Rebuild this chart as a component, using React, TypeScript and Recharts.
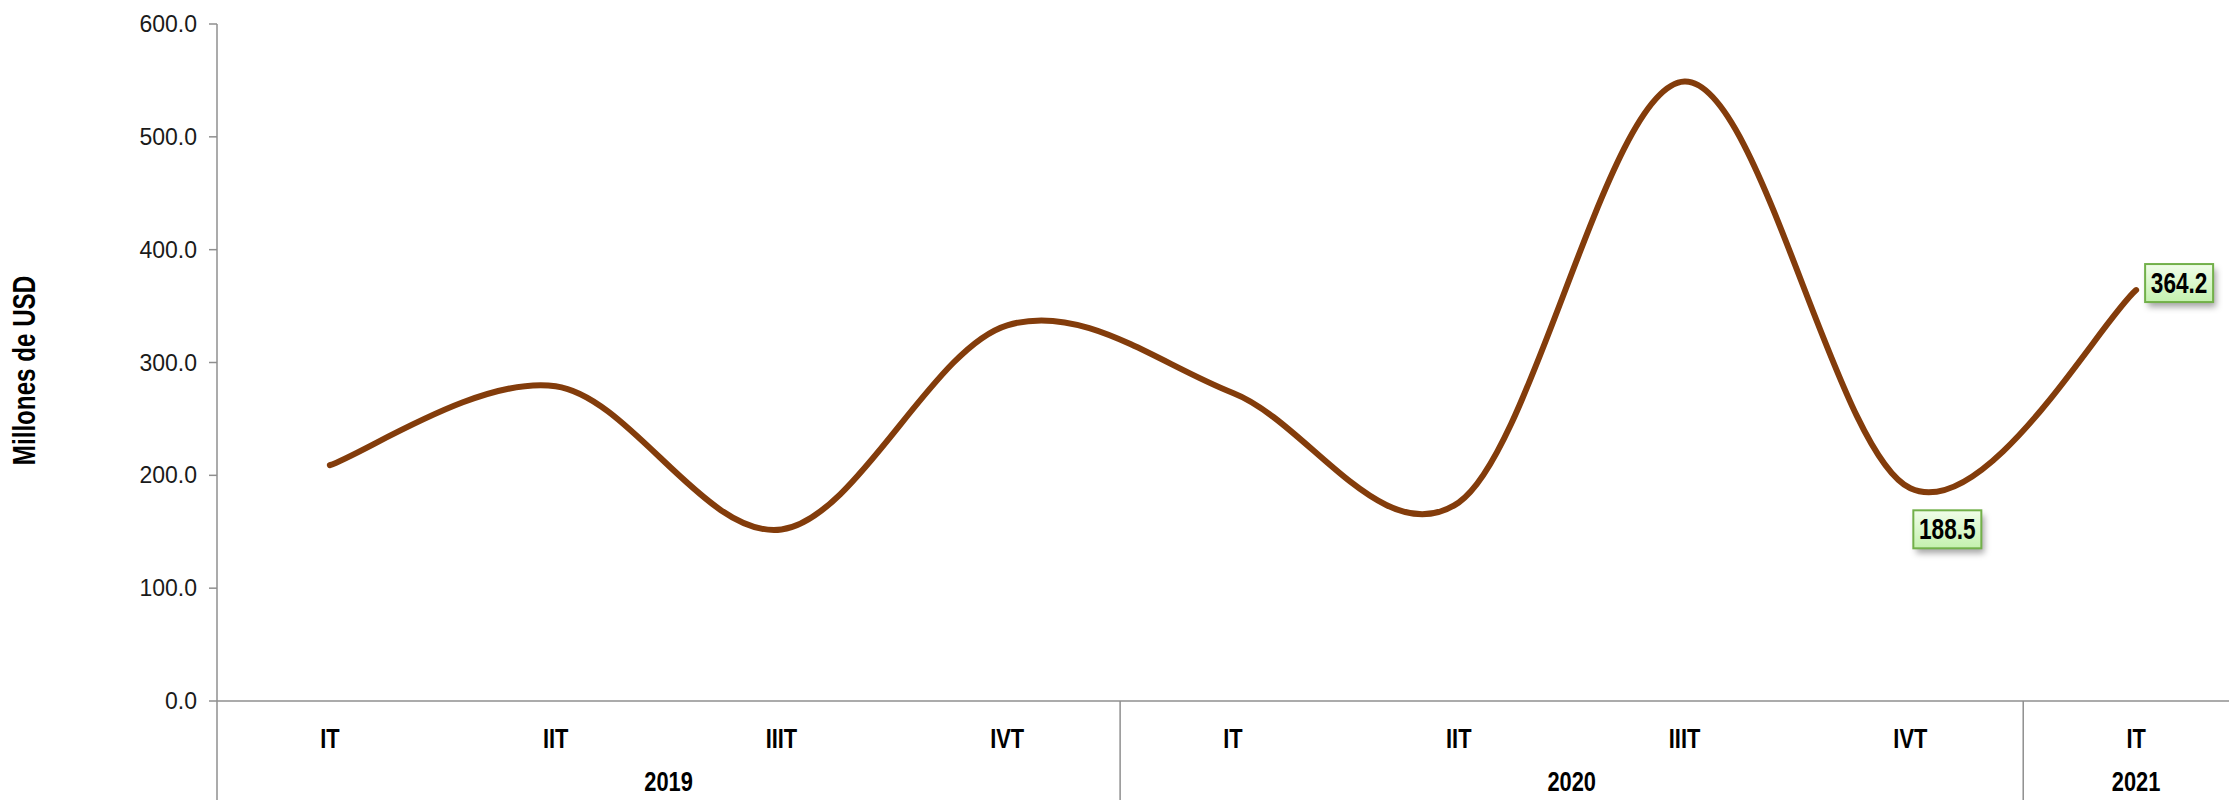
import { LineChart, Line, XAxis, YAxis, Label } from 'recharts';

const quarters = ['IT', 'IIT', 'IIIT', 'IVT', 'IT', 'IIT', 'IIIT', 'IVT', 'IT'];
const years = ['2019', '2019', '2019', '2019', '2020', '2020', '2020', '2020', '2021'];
const values = [209, 279, 152, 333, 273, 176, 549, 188.5, 364.2];
const yTicks = [0, 100, 200, 300, 400, 500, 600];
// only the last two points carry a data label
const labelled = [7, 8];

const data = quarters.map((q, i) => ({
    key: `${years[i]}-${q}`,
    quarter: q,
    year: years[i],
    value: values[i],
}));

const WIDTH = 2260;
const HEIGHT = 800;
const Y_AXIS_W = 217;
const MARGIN = { top: 24, right: 11, left: 0, bottom: 0 };
const PLOT_W = WIDTH - MARGIN.left - MARGIN.right - Y_AXIS_W;
const HALF_BAND = PLOT_W / quarters.length / 2;

const AXIS = '#8f8f8f';
const LINE = '#833C0B';
const SANS = '"Liberation Sans", Arial, sans-serif';

// Excel-style smoothed line (Catmull-Rom through every point)
const excelSmooth = (context: any) => {
    let pts: number[][] = [];
    return {
        areaStart() {},
        areaEnd() {},
        lineStart() {
            pts = [];
        },
        point(x: number, y: number) {
            pts.push([+x, +y]);
        },
        lineEnd() {
            if (!pts.length) return;
            context.moveTo(pts[0][0], pts[0][1]);
            for (let i = 0; i < pts.length - 1; i++) {
                const p0 = pts[Math.max(i - 1, 0)];
                const p1 = pts[i];
                const p2 = pts[i + 1];
                const p3 = pts[Math.min(i + 2, pts.length - 1)];
                context.bezierCurveTo(
                    p1[0] + (p2[0] - p0[0]) / 6,
                    p1[1] + (p2[1] - p0[1]) / 6,
                    p2[0] - (p3[0] - p1[0]) / 6,
                    p2[1] - (p3[1] - p1[1]) / 6,
                    p2[0],
                    p2[1],
                );
            }
        },
    };
};

// bold condensed text (no narrow font installed, so squeeze a normal one)
function Narrow({ x, y, size = 28, rotate = 0, children }: any) {
    return (
        <text
            transform={`translate(${x} ${y}) rotate(${rotate}) scale(0.78 1)`}
            textAnchor="middle"
            fontFamily={SANS}
            fontWeight="bold"
            fontSize={size}
            fill="#000"
        >
            {children}
        </text>
    );
}

function XTick(props: any) {
    const { x, y, index } = props;
    const left = x - HALF_BAND;
    const parts = [
        <Narrow key="q" x={x} y={y + 47}>
            {quarters[index]}
        </Narrow>,
    ];
    const startsGroup = index === 0 || years[index] !== years[index - 1];
    if (startsGroup) {
        let n = 0;
        while (index + n < years.length && years[index + n] === years[index]) n++;
        parts.push(
            <line key="sep" x1={left} x2={left} y1={y} y2={HEIGHT} stroke={AXIS} strokeWidth={1.5} />,
            <Narrow key="yr" x={left + n * HALF_BAND} y={y + 90}>
                {years[index]}
            </Narrow>,
        );
        if (index + n === years.length) {
            const right = left + n * 2 * HALF_BAND;
            parts.push(<line key="end" x1={right} x2={right} y1={y} y2={HEIGHT} stroke={AXIS} strokeWidth={1.5} />);
        }
    }
    return <g>{parts}</g>;
}

function DataLabel(props: any) {
    const { x, y, index, value } = props;
    if (!labelled.includes(index)) return <g />;
    const w = 68;
    const h = 38;
    // last point: label to the right, the other one below
    const bx = index === quarters.length - 1 ? x + 9 : x + 3;
    const by = index === quarters.length - 1 ? y - 26 : y + 22;
    return (
        <g>
            <defs>
                <linearGradient id="lblFill" x1="0" y1="0" x2="0" y2="1">
                    <stop offset="0%" stopColor="#f0fde9" />
                    <stop offset="100%" stopColor="#c4f1ae" />
                </linearGradient>
                <filter id="lblShadow" x="-30%" y="-30%" width="160%" height="180%">
                    <feGaussianBlur stdDeviation="3" />
                </filter>
            </defs>
            <rect x={bx + 3} y={by + 5} width={w} height={h} fill="rgba(0,0,0,0.35)" filter="url(#lblShadow)" />
            <rect x={bx} y={by} width={w} height={h} fill="url(#lblFill)" stroke="#72b04a" strokeWidth={2} />
            <Narrow x={bx + w / 2} y={by + h / 2 + 10} size={29}>
                {Number(value).toFixed(1)}
            </Narrow>
        </g>
    );
}

export default function App() {
    return (
        <div style={{ position: 'absolute', left: 0, top: 0, width: 2229, height: 800, overflow: 'hidden', background: '#fff' }}>
            <LineChart width={WIDTH} height={HEIGHT} data={data} margin={MARGIN}>
                <XAxis
                    dataKey="key"
                    height={HEIGHT - 701}
                    padding={{ left: HALF_BAND, right: HALF_BAND }}
                    axisLine={{ stroke: AXIS, strokeWidth: 1.5 }}
                    tickLine={false}
                    tickSize={0}
                    tickMargin={0}
                    interval={0}
                    tick={(p: any) => <XTick {...p} />}
                />
                <YAxis
                    width={Y_AXIS_W}
                    domain={[0, 600]}
                    ticks={yTicks}
                    interval={0}
                    tickFormatter={(v: number) => v.toFixed(1)}
                    axisLine={{ stroke: AXIS, strokeWidth: 1.5 }}
                    tickLine={{ stroke: AXIS, strokeWidth: 1.5 }}
                    tickSize={8}
                    tickMargin={12}
                    tick={{ fill: '#1a1a1a', fontSize: 23, fontFamily: SANS }}
                >
                    <Label
                        content={(p: any) => {
                            const vb = p.viewBox || { y: 24, height: 677 };
                            const cy = vb.y + vb.height / 2 + 8;
                            return (
                                <Narrow x={35} y={cy} size={31} rotate={-90}>
                                    Millones de USD
                                </Narrow>
                            );
                        }}
                    />
                </YAxis>
                <Line
                    dataKey="value"
                    type={excelSmooth as any}
                    stroke={LINE}
                    strokeWidth={6}
                    strokeLinecap="round"
                    dot={false}
                    activeDot={false}
                    isAnimationActive={false}
                    label={(p: any) => <DataLabel {...p} />}
                />
            </LineChart>
        </div>
    );
}
